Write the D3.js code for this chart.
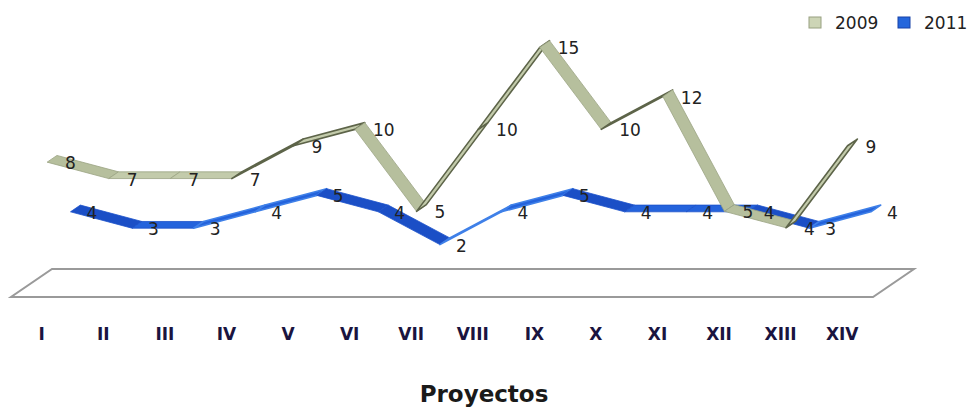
<!DOCTYPE html>
<html>
<head>
<meta charset="utf-8">
<script src="https://cdn.jsdelivr.net/npm/d3@7"></script>
<style>
  body { margin: 0; background: #fff; }
  svg { display: block; }
  .lbl { font-family: "DejaVu Sans", sans-serif; font-size: 17px; fill: #222; }
  .cat { font-family: "DejaVu Sans", sans-serif; font-size: 17px; font-weight: bold; fill: #1a1440; }
  .ttl { font-family: "DejaVu Sans", sans-serif; font-size: 23px; font-weight: bold; fill: #1a1a1a; }
</style>
</head>
<body>
<svg id="chart"></svg>
<script>
'use strict';

const categories = ['I', 'II', 'III', 'IV', 'V', 'VI', 'VII', 'VIII', 'IX', 'X', 'XI', 'XII', 'XIII', 'XIV'];
const values2009 = [8, 7, 7, 7, 9, 10, 5, 10, 15, 10, 12, 5, 4, 9];
const values2011 = [4, 3, 3, 4, 5, 4, 2, 4, 5, 4, 4, 4, 3, 4];
const seriesNames = ['2009', '2011'];

const width = 969, height = 409;
const floor_y = 297;          // front edge of the floor
const depth_x = 41, depth_y = -28;   // floor depth vector
const ribbon_t = 0.24;        // ribbon thickness in depth units

const svg = d3.select('#chart').attr('width', width).attr('height', height);

// category scale along the front edge of the floor
const x = d3.scaleBand().domain(categories).range([11, 873]);
// value -> pixel height
const h = d3.scaleLinear().domain([0, 15]).range([0, 246]);
// depth fraction -> pixel offset
const dx = d3.scaleLinear().domain([0, 1]).range([0, depth_x]);
const dy = d3.scaleLinear().domain([0, 1]).range([0, depth_y]);

const series = [
    {name: seriesNames[1], vals: values2011, t: 0.7, lx: 16,
     fill: '#2463dc', fallFill: '#1b4fc6', stroke: '#1c52ca', riseStroke: '#3f80e8'},
    {name: seriesNames[0], vals: values2009, t: 0.13, lx: 18,
     fill: '#c3cbab', fallFill: '#b6bf9d', stroke: '#9aa383', riseStroke: '#5d6449'}
];

// floor
const fl = [
    [x.range()[0], floor_y],
    [x.range()[1], floor_y],
    [x.range()[1] + depth_x, floor_y + depth_y],
    [x.range()[0] + depth_x, floor_y + depth_y]
];
svg.append('polygon')
    .attr('points', fl.map(p => p.join(',')).join(' '))
    .attr('fill', '#fff')
    .attr('stroke', '#9a9a9a')
    .attr('stroke-width', 2);

function pt(s, i) {
    const c = categories[i];
    return [x(c) + x.bandwidth() / 2 + dx(s.t), floor_y + dy(s.t) - h(s.vals[i])];
}

// ribbons, back series first
series.forEach(s => {
    const g = svg.append('g').attr('class', 'ribbon');
    const ox = dx(ribbon_t), oy = dy(ribbon_t);
    for (let i = 0; i < s.vals.length - 1; i++) {
        const a = pt(s, i), b = pt(s, i + 1);
        const rise = s.vals[i + 1] > s.vals[i];
        const fall = s.vals[i + 1] < s.vals[i];
        const quad = [a, b, [b[0] + ox, b[1] + oy], [a[0] + ox, a[1] + oy]];
        g.append('polygon')
            .attr('points', quad.map(p => p.join(',')).join(' '))
            .attr('fill', fall ? s.fallFill : s.fill)
            .attr('stroke', rise ? s.riseStroke : s.stroke)
            .attr('stroke-width', rise ? 1.6 : 0.8)
            .attr('stroke-linejoin', 'round');
    }
});

// data labels
series.forEach(s => {
    svg.append('g').selectAll('text')
        .data(s.vals)
        .enter()
        .append('text')
        .attr('class', 'lbl')
        .attr('x', (d, i) => pt(s, i)[0] + s.lx)
        .attr('y', (d, i) => pt(s, i)[1] + 7)
        .text(d => d);
});

// category labels
svg.append('g').selectAll('text')
    .data(categories)
    .enter()
    .append('text')
    .attr('class', 'cat')
    .attr('text-anchor', 'middle')
    .attr('x', d => x(d) + x.bandwidth() / 2)
    .attr('y', 340)
    .text(d => d);

// axis title
svg.append('text')
    .attr('class', 'ttl')
    .attr('text-anchor', 'middle')
    .attr('x', 484)
    .attr('y', 402)
    .text('Proyectos');

// legend
const legend = [
    {name: seriesNames[0], x: 809, fill: '#cdd5b6', stroke: '#97a080'},
    {name: seriesNames[1], x: 898, fill: '#2466dc', stroke: '#1843a8'}
];
const lg = svg.append('g').attr('class', 'legend');
legend.forEach(l => {
    lg.append('rect')
        .attr('x', l.x).attr('y', 17)
        .attr('width', 12).attr('height', 11)
        .attr('fill', l.fill)
        .attr('stroke', l.stroke)
        .attr('stroke-width', 1);
    lg.append('text')
        .attr('class', 'lbl')
        .attr('x', l.x + 26)
        .attr('y', 29)
        .text(l.name);
});
</script>
</body>
</html>
